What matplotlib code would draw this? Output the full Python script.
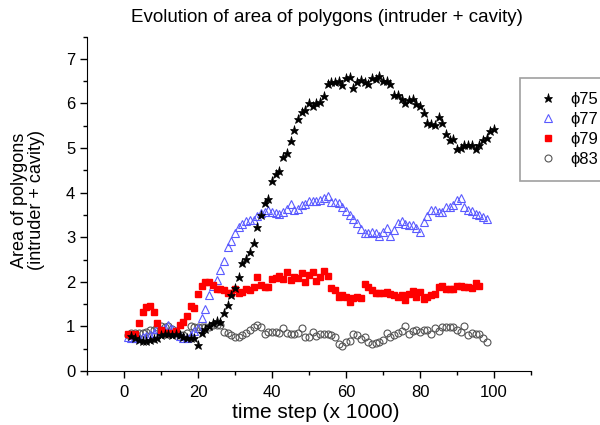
import matplotlib
matplotlib.use("Agg")
import matplotlib.pyplot as plt
from matplotlib.ticker import MultipleLocator

plt.rcParams['font.family'] = ['Liberation Sans', 'DejaVu Sans']

# phi75 (stars), x = 2..100
x75 = list(range(2, 101))
y75 = [0.78, 0.75, 0.70, 0.67, 0.68, 0.69, 0.72, 0.75, 0.80, 0.82,
       0.83, 0.80, 0.82, 0.80, 0.76, 0.74, 0.73, 0.73, 0.58, 0.85,
       0.95, 1.00, 1.07, 1.12, 1.10, 1.30, 1.48, 1.70, 1.86, 2.11,
       2.43, 2.52, 2.67, 2.87, 3.23, 3.50, 3.77, 3.86, 4.27, 4.42,
       4.48, 4.79, 4.90, 5.16, 5.40, 5.65, 5.80, 5.85, 6.02, 5.95,
       6.00, 6.04, 6.17, 6.43, 6.48, 6.48, 6.51, 6.41, 6.58, 6.60,
       6.34, 6.47, 6.52, 6.48, 6.43, 6.58, 6.55, 6.61, 6.51, 6.51,
       6.43, 6.20, 6.18, 6.09, 6.02, 6.08, 6.10, 5.98, 5.94, 5.78,
       5.57, 5.55, 5.52, 5.69, 5.57, 5.31, 5.18, 5.21, 4.97, 5.01,
       5.07, 5.06, 5.06, 4.97, 5.07, 5.19, 5.23, 5.38, 5.43]

# phi77 (open triangles), x = 1..98
x77 = list(range(1, 99))
y77 = [0.76, 0.74, 0.74, 0.75, 0.76, 0.78, 0.80, 0.85, 0.95, 0.92,
       0.97, 1.03, 0.95, 0.90, 0.78, 0.75, 0.75, 0.80, 0.90, 0.96,
       1.20, 1.40, 1.70, 1.90, 2.04, 2.26, 2.47, 2.79, 2.92, 3.09,
       3.22, 3.30, 3.37, 3.39, 3.39, 3.48, 3.54, 3.57, 3.60, 3.57,
       3.55, 3.52, 3.57, 3.64, 3.74, 3.62, 3.64, 3.72, 3.74, 3.82,
       3.82, 3.82, 3.83, 3.87, 3.93, 3.80, 3.80, 3.76, 3.67, 3.59,
       3.50, 3.42, 3.33, 3.18, 3.09, 3.09, 3.11, 3.09, 3.03, 3.11,
       3.20, 3.03, 3.16, 3.31, 3.37, 3.30, 3.27, 3.27, 3.20, 3.11,
       3.34, 3.48, 3.62, 3.62, 3.57, 3.57, 3.67, 3.67, 3.72, 3.83,
       3.87, 3.68, 3.61, 3.59, 3.51, 3.50, 3.46, 3.41]

# phi79 (filled squares), x = 1..96
x79 = list(range(1, 97))
y79 = [0.82, 0.80, 0.82, 1.07, 1.33, 1.44, 1.45, 1.33, 1.07, 0.92,
       0.86, 0.85, 0.85, 0.90, 1.03, 1.10, 1.23, 1.45, 1.41, 1.72,
       1.91, 2.00, 2.00, 1.93, 1.83, 1.85, 1.82, 1.74, 1.74, 1.85,
       1.76, 1.78, 1.85, 1.82, 1.89, 2.10, 1.93, 1.88, 1.89, 2.06,
       2.08, 2.13, 2.06, 2.23, 2.04, 2.10, 2.08, 2.19, 2.00, 2.15,
       2.21, 2.02, 2.10, 2.25, 2.13, 1.87, 1.82, 1.67, 1.70, 1.65,
       1.55, 1.63, 1.67, 1.64, 1.96, 1.89, 1.82, 1.74, 1.74, 1.74,
       1.78, 1.72, 1.70, 1.67, 1.70, 1.59, 1.73, 1.79, 1.65, 1.78,
       1.61, 1.65, 1.70, 1.73, 1.89, 1.91, 1.85, 1.83, 1.83, 1.91,
       1.91, 1.89, 1.88, 1.87, 1.98, 1.91]

# phi83 (open circles), x = 1..98
x83 = list(range(1, 99))
y83 = [0.81, 0.85, 0.85, 0.85, 0.85, 0.88, 0.91, 0.93, 0.99, 1.00,
       0.99, 1.00, 0.95, 0.85, 0.81, 0.81, 0.85, 1.00, 0.98, 0.98,
       0.98, 0.98, 0.99, 1.03, 1.03, 1.03, 0.88, 0.85, 0.81, 0.77,
       0.77, 0.81, 0.85, 0.93, 0.99, 1.03, 0.98, 0.82, 0.88, 0.88,
       0.87, 0.85, 0.96, 0.85, 0.83, 0.83, 0.86, 0.96, 0.77, 0.77,
       0.88, 0.79, 0.82, 0.83, 0.82, 0.81, 0.77, 0.60, 0.57, 0.66,
       0.68, 0.84, 0.80, 0.72, 0.77, 0.66, 0.60, 0.62, 0.66, 0.70,
       0.85, 0.77, 0.81, 0.86, 0.90, 1.01, 0.84, 0.90, 0.92, 0.88,
       0.92, 0.92, 0.84, 0.96, 0.90, 0.98, 0.98, 0.98, 0.99, 0.93,
       0.87, 1.02, 0.81, 0.86, 0.84, 0.84, 0.73, 0.64]

fig = plt.figure(figsize=(6, 4.25), dpi=100)
ax = fig.add_axes([0.145, 0.127, 0.74, 0.787])

ax.plot(x83, y83, 'o', ms=5, mfc='none', mec='#555555', mew=0.8, ls='none', label='\u03d583')
ax.plot(x77, y77, '^', ms=6, mfc='none', mec='#5a5aff', mew=0.8, ls='none', label='\u03d577')
ax.plot(x79, y79, 's', ms=4.5, mfc='#ff0000', mec='#ff0000', ls='none', label='\u03d579')
ax.plot(x75, y75, '*', ms=6.5, mfc='black', mec='black', mew=0.5, ls='none', label='\u03d575')

ax.set_xlim(-10, 110)
ax.set_ylim(0, 7.5)
ax.xaxis.set_minor_locator(MultipleLocator(10))
ax.yaxis.set_major_locator(MultipleLocator(1))
ax.yaxis.set_minor_locator(MultipleLocator(0.5))
ax.set_xticks(range(0, 101, 20))
ax.tick_params(which='major', direction='out', length=5, width=1, labelsize=12)
ax.tick_params(axis='x', which='major', pad=5)
ax.tick_params(which='minor', direction='out', length=3, width=1)
ax.spines['top'].set_visible(False)
ax.spines['right'].set_visible(False)

fig.text(327 / 600, 1 - 17 / 425, 'Evolution of area of polygons (intruder + cavity)',
         fontsize=13.5, ha='center', va='center')
fig.text(316 / 600, 1 - 412 / 425, 'time step (x 1000)', fontsize=15, ha='center', va='center')
fig.text(28 / 600, 1 - 200 / 425, 'Area of polygons\n(intruder + cavity)', fontsize=13,
         rotation=90, ha='center', va='center', multialignment='center', linespacing=1.05)

h, l = ax.get_legend_handles_labels()
order = [3, 1, 2, 0]
leg = fig.legend([h[i] for i in order], [l[i] for i in order],
                 loc='upper left', bbox_to_anchor=(520 / 600, 1 - 78 / 425),
                 fontsize=12, frameon=True, fancybox=False, edgecolor='#888888',
                 handlelength=1.6, handletextpad=0.55, borderpad=0.85, labelspacing=0.3,
                 borderaxespad=0)
leg.get_frame().set_linewidth(1.2)

fig.savefig('out.png', dpi=100)
